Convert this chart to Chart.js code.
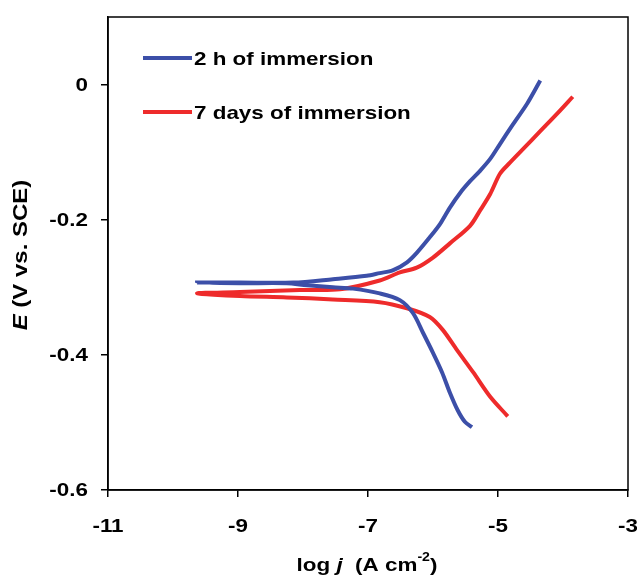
<!DOCTYPE html>
<html lang="en">
<head>
    <meta charset="UTF-8">
    <title>Polarization curves</title>
    <script src="https://cdn.jsdelivr.net/npm/chart.js"></script>
    <style>
        body {
            margin: 0;
            background-color: #fff;
        }
        canvas {
            display: block;
        }
    </style>
</head>
<body>
    <canvas id="tafelChart" width="637" height="579"></canvas>

    <script>
        // Tick labels
        const xTicks = [-11, -9, -7, -5, -3];
        const yTicks = [-0.6, -0.4, -0.2, 0];

        const seriesLabels = ["2 h of immersion", "7 days of immersion"];

        // 2 h curve, traced from the cathodic end through Ecorr to the anodic end
        const blueLogJ = [-5.40, -5.51, -5.62, -5.74, -5.86, -6.00, -6.15, -6.31, -6.51, -6.82, -7.23, -7.54, -7.94, -8.25, -8.97, -9.63,
                          -8.97, -8.15, -7.54, -7.02, -6.82, -6.62, -6.40, -6.25, -6.05, -5.89, -5.74, -5.58, -5.43, -5.28, -5.12,
                          -4.97, -4.77, -4.55, -4.35];
        const blueE = [-0.507, -0.499, -0.482, -0.456, -0.426, -0.397, -0.368, -0.338, -0.319, -0.309, -0.302, -0.300, -0.297, -0.294, -0.294, -0.293,
                       -0.293, -0.293, -0.288, -0.283, -0.279, -0.275, -0.263, -0.249, -0.226, -0.206, -0.182, -0.160, -0.143, -0.128, -0.110,
                       -0.088, -0.059, -0.028, 0.006];

        // 7 days curve
        const redLogJ = [-4.85, -5.12, -5.38, -5.63, -5.85, -6.05, -6.40, -6.82, -7.54, -8.25, -8.97, -9.63,
                         -8.97, -8.05, -7.43, -6.82, -6.51, -6.25, -6.00, -5.74, -5.43, -5.28, -5.12, -4.97, -4.82, -4.62,
                         -4.35, -4.09, -3.85];
        const redE = [-0.491, -0.462, -0.426, -0.393, -0.363, -0.344, -0.331, -0.322, -0.318, -0.315, -0.313, -0.309,
                      -0.307, -0.304, -0.303, -0.290, -0.278, -0.271, -0.256, -0.235, -0.209, -0.187, -0.162, -0.132, -0.116, -0.096,
                      -0.069, -0.043, -0.018];

        const BLUE = "#3c4fa8";
        const RED = "#ee2b2b";
        const FONT = "'Liberation Sans', Arial, sans-serif";
        const BOLD = "bold 19px " + FONT;
        const ITAL = "italic bold 19px " + FONT;
        const STRETCH = 1.18; // the reference text is wider than plain Arial

        function toPoints(xs, ys) {
            return xs.map((x, i) => ({ x: x, y: ys[i] }));
        }

        // parts: [text, font, yOffset]; align: "center" | "right" | "left"
        function drawText(ctx, parts, x, y, align, sx) {
            let total = 0;
            parts.forEach(p => { ctx.font = p[1]; total += ctx.measureText(p[0]).width; });
            let start = align === "center" ? -total / 2 : align === "right" ? -total : 0;
            ctx.save();
            ctx.translate(x, y);
            ctx.scale(sx, 1);
            ctx.textAlign = "left";
            ctx.textBaseline = "middle";
            parts.forEach(p => {
                ctx.font = p[1];
                ctx.fillText(p[0], start, p[2] || 0);
                start += ctx.measureText(p[0]).width;
            });
            ctx.restore();
        }

        // box, tick labels, legend inside the plot, axis titles with italic parts
        const decorations = {
            id: "decorations",
            beforeDatasetsDraw(chart) {
                const { ctx, chartArea: a } = chart;
                ctx.save();
                ctx.strokeStyle = "#000";
                ctx.lineWidth = 1.5;
                ctx.strokeRect(a.left, a.top, a.right - a.left, a.bottom - a.top);
                ctx.restore();
            },
            afterDraw(chart) {
                const ctx = chart.ctx;
                const xs = chart.scales.x, ys = chart.scales.y;
                ctx.save();
                ctx.fillStyle = "#000";

                xTicks.forEach(v => {
                    drawText(ctx, [[String(v), BOLD]], xs.getPixelForValue(v), 527, "center", STRETCH);
                });
                yTicks.forEach(v => {
                    drawText(ctx, [[String(v), BOLD]], 88, ys.getPixelForValue(v) + 1, "right", STRETCH);
                });

                // legend
                const rows = [[BLUE, 58], [RED, 112]];
                rows.forEach(([color, y], i) => {
                    ctx.strokeStyle = color;
                    ctx.lineWidth = 4;
                    ctx.beginPath();
                    ctx.moveTo(143, y);
                    ctx.lineTo(192, y);
                    ctx.stroke();
                    drawText(ctx, [[seriesLabels[i], BOLD]], 194, y + 2, "left", STRETCH);
                });

                // x title: log j (A cm-2)
                drawText(ctx, [["log ", BOLD], ["j", ITAL], ["  (A cm", BOLD], ["-2", "bold 12px " + FONT, -8], [")", BOLD]],
                         367, 566, "center", STRETCH);

                // y title: E (V vs. SCE)
                ctx.translate(21, 255);
                ctx.rotate(-Math.PI / 2);
                drawText(ctx, [["E", "italic bold 20px " + FONT], [" (V vs. SCE)", "bold 20px " + FONT]], 0, 0, "center", 1.2);
                ctx.restore();
            }
        };

        const ctx = document.getElementById("tafelChart").getContext("2d");
        new Chart(ctx, {
            type: "scatter",
            data: {
                datasets: [{
                    label: seriesLabels[0],
                    data: toPoints(blueLogJ, blueE),
                    showLine: true,
                    borderColor: BLUE,
                    borderWidth: 4,
                    pointRadius: 0,
                    tension: 0.3
                }, {
                    label: seriesLabels[1],
                    data: toPoints(redLogJ, redE),
                    showLine: true,
                    borderColor: RED,
                    borderWidth: 4,
                    pointRadius: 0,
                    tension: 0.3
                }]
            },
            options: {
                responsive: false,
                animation: false,
                devicePixelRatio: 1,
                layout: { padding: { top: 17, right: 9, left: 0, bottom: 0 } },
                plugins: {
                    legend: { display: false },
                    tooltip: { enabled: false }
                },
                scales: {
                    x: {
                        type: "linear",
                        min: -11,
                        max: -3,
                        afterBuildTicks: s => { s.ticks = xTicks.map(v => ({ value: v })); },
                        afterFit: s => { s.height = 89; s.paddingLeft = 0; s.paddingRight = 0; },
                        ticks: { display: false },
                        grid: { drawOnChartArea: false, tickLength: 7, color: "#000", lineWidth: 1.5 },
                        border: { color: "#000", width: 1.5 }
                    },
                    y: {
                        min: -0.6,
                        max: 0.1,
                        afterBuildTicks: s => { s.ticks = yTicks.map(v => ({ value: v })); },
                        afterFit: s => { s.width = 108; s.paddingTop = 0; s.paddingBottom = 0; },
                        ticks: { display: false },
                        grid: { drawOnChartArea: false, tickLength: 7, color: "#000", lineWidth: 1.5 },
                        border: { color: "#000", width: 1.5 }
                    }
                }
            },
            plugins: [decorations]
        });
    </script>
</body>
</html>
